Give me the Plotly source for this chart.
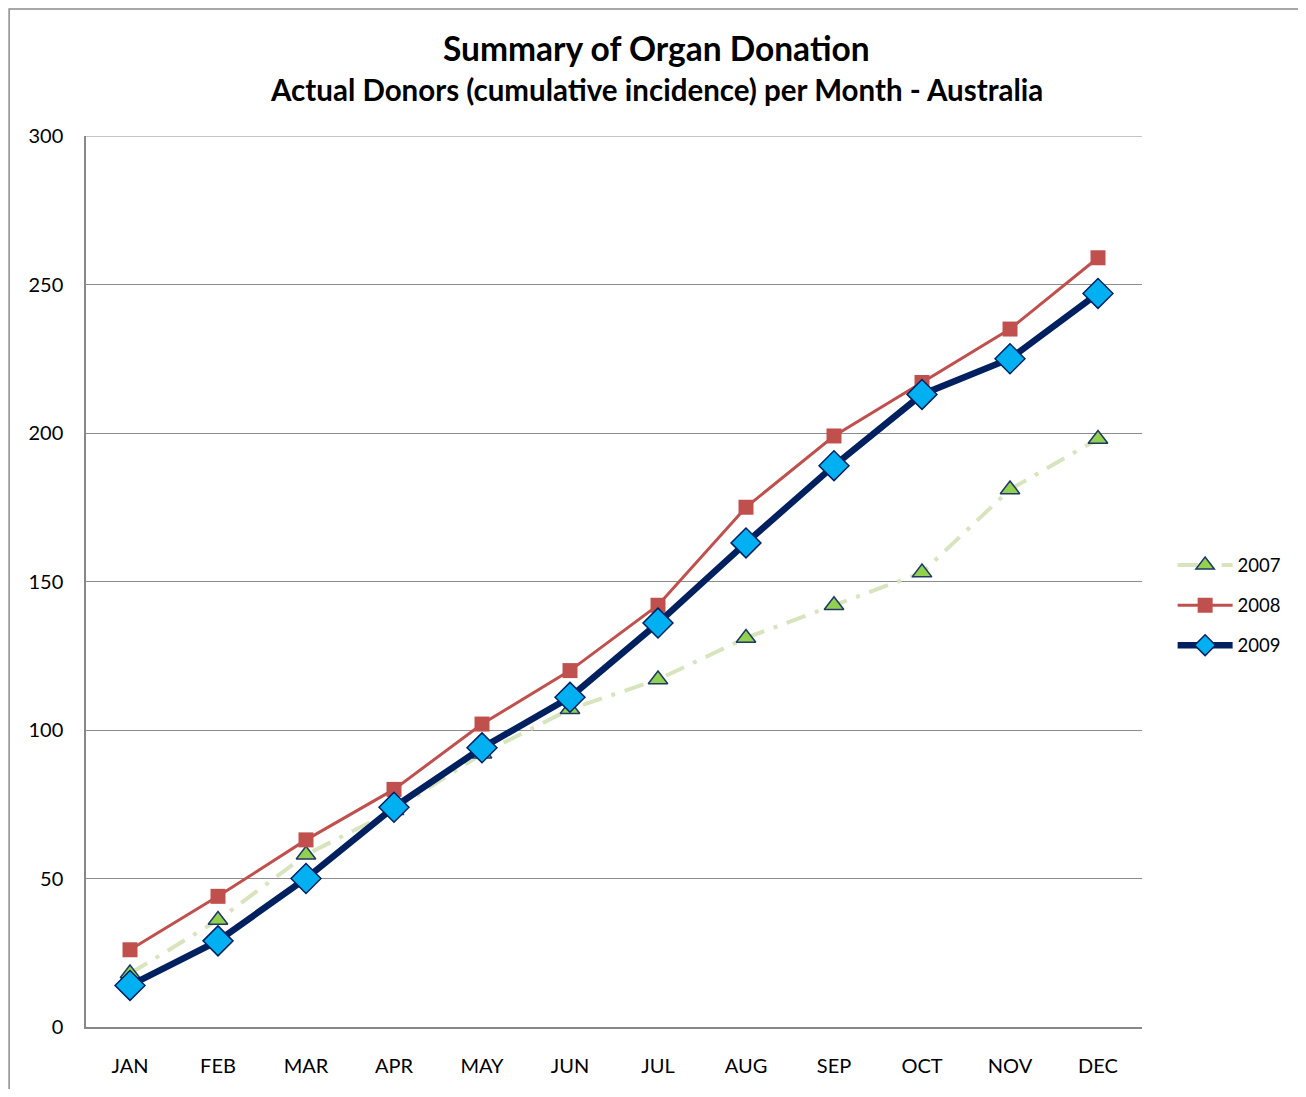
import plotly.graph_objects as go

months = ["JAN", "FEB", "MAR", "APR", "MAY", "JUN", "JUL", "AUG", "SEP", "OCT", "NOV", "DEC"]
donors_2007 = [18, 36, 58, 73, 92, 107, 117, 131, 142, 153, 181, 198]
donors_2008 = [26, 44, 63, 80, 102, 120, 142, 175, 199, 217, 235, 259]
donors_2009 = [14, 29, 50, 74, 94, 111, 136, 163, 189, 213, 225, 247]

FONT = "Lato, Carlito, 'Open Sans', sans-serif"

fig = go.Figure()
fig.add_trace(go.Scatter(
    x=months, y=donors_2007, name="2007", mode="lines+markers", legendgroup="a",
    line=dict(color="#D7E4BD", width=4, dash="20px,10px,4px,10px"),
    marker=dict(symbol="triangle-up", size=17, color="#92D050",
                line=dict(color="#1F3864", width=1.5)),
))
fig.add_trace(go.Scatter(
    x=months, y=donors_2008, name="2008", mode="lines+markers", legendgroup="b",
    line=dict(color="#C0504D", width=3),
    marker=dict(symbol="square", size=15, color="#C0504D",
                line=dict(color="#C0504D", width=0)),
))
fig.add_trace(go.Scatter(
    x=months, y=donors_2009, name="2009", mode="lines+markers", legendgroup="c",
    line=dict(color="#002060", width=6.5),
    marker=dict(symbol="diamond", size=23, color="#00B0F0",
                line=dict(color="#002060", width=1.5)),
))

fig.update_layout(
    width=1290, height=1081,
    margin=dict(l=78, r=155, t=128, b=59),
    paper_bgcolor="white", plot_bgcolor="white",
    font=dict(family=FONT, size=20, color="black"),
    showlegend=True,
    legend=dict(
        x=1.029, xanchor="left", y=0.473, yanchor="middle",
        font=dict(family=FONT, size=18.5, color="black"),
        bgcolor="rgba(0,0,0,0)", tracegroupgap=13, itemwidth=55,
    ),
    xaxis=dict(
        type="category", showgrid=False, showline=True, linecolor="#888888",
        linewidth=1.5, ticks="", ticklabelstandoff=20,
        tickfont=dict(family=FONT, size=20), range=[-0.5, 11.5],
    ),
    yaxis=dict(
        range=[0, 300], dtick=50, showgrid=True, gridcolor="#8C8C8C", gridwidth=1.2,
        showline=True, linecolor="#888888", linewidth=1.5, ticks="",
        ticklabelstandoff=17, zeroline=False,
        tickfont=dict(family=FONT, size=20),
    ),
    annotations=[
        dict(text="<b>Summary of Organ Donation</b>", xref="paper", yref="paper",
             x=0.540, y=1.0984, xanchor="center", yanchor="middle", showarrow=False,
             font=dict(family=FONT, size=33.5, color="black")),
        dict(text="<b>Actual Donors (cumulative incidence) per Month - Australia</b>",
             xref="paper", yref="paper",
             x=0.540, y=1.0526, xanchor="center", yanchor="middle", showarrow=False,
             font=dict(family=FONT, size=29.5, color="black")),
    ],
    shapes=[
        dict(type="rect", xref="paper", yref="paper",
             x0=-0.0728, x1=1.3, y0=-0.3, y1=1.1426,
             line=dict(color="#8C8C8C", width=1.5), fillcolor="rgba(0,0,0,0)", layer="below"),
        dict(type="line", xref="paper", yref="y", x0=0, x1=1, y0=300, y1=300,
             line=dict(color="#8C8C8C", width=1.2), layer="below"),
    ],
)

fig.write_html("out.html")
